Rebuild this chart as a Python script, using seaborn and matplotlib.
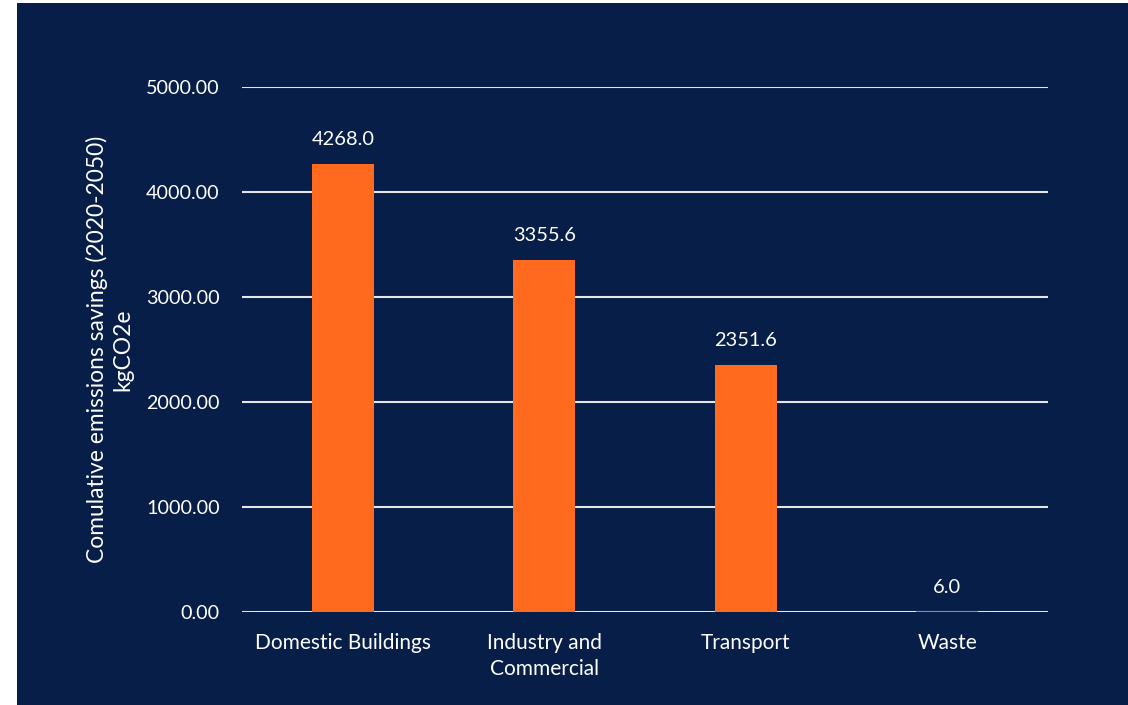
import matplotlib
matplotlib.use("Agg")
import matplotlib.pyplot as plt
import seaborn as sns
import pandas as pd

categories = ["Domestic Buildings", "Industry and\nCommercial", "Transport", "Waste"]
savings = [4268.0, 3355.6, 2351.6, 6.0]
y_ticks = [0, 1000, 2000, 3000, 4000, 5000]

navy = "#061E48"
orange = "#FF6A1F"
text_color = "#FFFFFF"

sns.set_theme(style="white")
plt.rcParams["font.family"] = ["Lato", "DejaVu Sans"]

df = pd.DataFrame({"category": categories, "savings": savings})

fig = plt.figure(figsize=(11.28, 7.05), dpi=100)
fig.patch.set_facecolor("white")
# dark panel behind the chart
fig.patches.append(plt.Rectangle((17 / 1128, 0), 1 - 17 / 1128, 1 - 3 / 705,
                                 transform=fig.transFigure, facecolor=navy,
                                 edgecolor="none", zorder=-10))

ax = fig.add_axes([242 / 1128, 1 - 612 / 705, 806 / 1128, 525 / 705])
ax.set_facecolor("none")

sns.barplot(data=df, x="category", y="savings", color=orange, width=0.31,
            saturation=1, linewidth=0, ax=ax, zorder=3)

ax.set_ylim(0, 5000)
ax.set_yticks(y_ticks)
ax.set_yticklabels([f"{v:.2f}" for v in y_ticks], color=text_color, fontsize=14.2)
ax.tick_params(axis="y", length=0, pad=16)
ax.tick_params(axis="x", length=0, pad=15, labelsize=15, labelcolor=text_color)
for lbl in ax.get_xticklabels():
    lbl.set_linespacing(1.4)
    lbl.set_verticalalignment("top")

ax.grid(axis="y", color="#E6E6E6", linewidth=1.5, zorder=1)
for s in ax.spines.values():
    s.set_visible(False)

ax.set_xlabel("")
ax.set_ylabel("Comulative emissions savings (2020-2050)\nkgCO2e",
              color=text_color, fontsize=16.4, labelpad=9, linespacing=1.25)

for patch, val in zip(ax.patches, savings):
    ax.annotate(f"{val:.1f}", (patch.get_x() + patch.get_width() / 2, val),
                xytext=(0, 17.5), textcoords="offset points", ha="center",
                va="center", color=text_color, fontsize=14.4)

fig.savefig("out.png", dpi=100, facecolor=fig.get_facecolor())
